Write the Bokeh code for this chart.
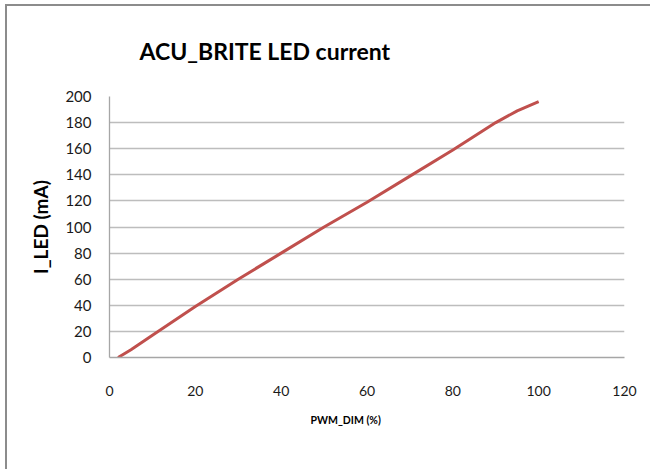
from bokeh.plotting import figure
from bokeh.embed import file_html
from bokeh.resources import INLINE
from bokeh.layouts import column
from bokeh.models import FixedTicker, Range1d, Title

# Data
pwm_dim = [2, 5, 10, 20, 30, 40, 50, 60, 70, 80, 90, 95, 100]
i_led = [0, 6, 17, 39, 60, 80, 100, 119, 139, 159, 180, 189, 196]
x_ticks = [0, 20, 40, 60, 80, 100, 120]
y_ticks = [0, 20, 40, 60, 80, 100, 120, 140, 160, 180, 200]

FONT = "Lato"
BORDER = "#8c8c8c"

p = figure(width=650, height=469, output_backend="svg", toolbar_location=None,
           x_range=Range1d(0, 120), y_range=Range1d(0, 200),
           min_border_left=109, min_border_right=26,
           min_border_top=96, min_border_bottom=112,
           title="ACU_BRITE LED current")

p.outline_line_color = None
p.background_fill_color = "white"
p.border_fill_alpha = 0

p.title.text_font = FONT
p.title.text_font_size = "23px"
p.title.text_font_style = "bold"
p.title.text_color = "black"
p.title.align = "left"
p.title.offset = 30
p.title.standoff = 64

p.line(pwm_dim, i_led, line_color="#c0504d", line_width=3)

p.xaxis.ticker = FixedTicker(ticks=x_ticks)
p.yaxis.ticker = FixedTicker(ticks=y_ticks)

for ax in (p.xaxis, p.yaxis):
    ax.axis_line_color = "#a6a6a6"
    ax.axis_line_width = 1.3
    ax.major_tick_line_color = None
    ax.minor_tick_line_color = None
    ax.major_tick_out = 0
    ax.major_tick_in = 0
    ax.major_label_text_font = FONT
    ax.major_label_text_color = "#1a1a1a"

p.xaxis.major_label_text_font_size = "14px"
p.yaxis.major_label_text_font_size = "15px"
p.xaxis.major_label_standoff = 28
p.yaxis.major_label_standoff = 18

p.yaxis.axis_label = "I_LED (mA)"
p.yaxis.axis_label_text_font = FONT
p.yaxis.axis_label_text_font_size = "19px"
p.yaxis.axis_label_text_font_style = "bold"
p.yaxis.axis_label_text_color = "black"
p.yaxis.axis_label_standoff = 10

xlabel = Title(text="PWM_DIM (%)", align="left", offset=201, standoff=26,
               text_font=FONT, text_font_size="10.5px", text_font_style="bold",
               text_color="black")
p.add_layout(xlabel, "below")

p.xgrid.grid_line_color = None
p.ygrid.grid_line_color = "#bdbdbd"
p.ygrid.grid_line_width = 1.3

# outer chart-area border (only its left and top edges fall inside the picture)
page = column(p, styles={
    "background": (f"linear-gradient({BORDER},{BORDER}) 5px 4px / 2px 100% no-repeat, "
                   f"linear-gradient({BORDER},{BORDER}) 5px 4px / 100% 2px no-repeat, white"),
})

open("out.html", "w").write(file_html(page, INLINE))
